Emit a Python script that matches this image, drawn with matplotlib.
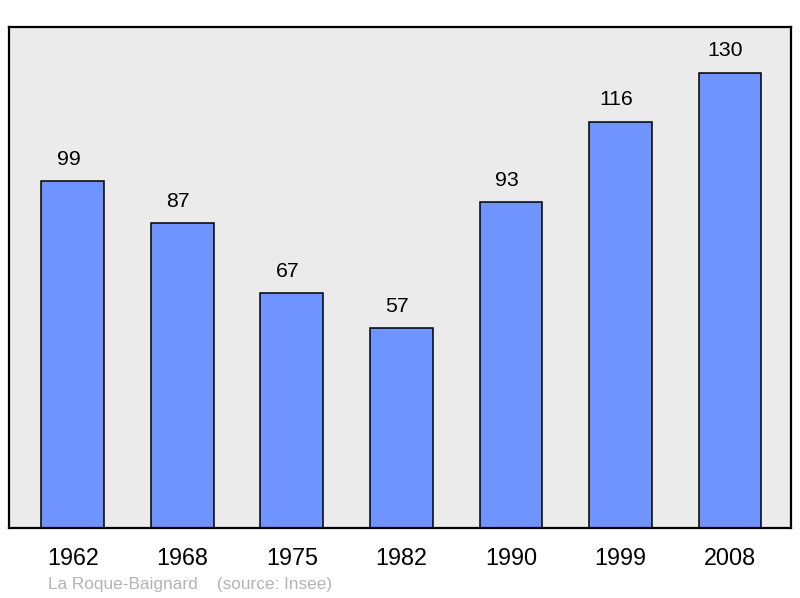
import matplotlib.pyplot as plt

plt.rcParams['font.family'] = ['Liberation Sans', 'DejaVu Sans']

years = ['1962', '1968', '1975', '1982', '1990', '1999', '2008']
population = [99, 87, 67, 57, 93, 116, 130]

fig = plt.figure(figsize=(8, 5.98), dpi=100)
ax = fig.add_axes([9 / 800, 1 - 528 / 598, 782 / 800, 501 / 598])
ax.set_facecolor('#ebebeb')

x = range(len(years))
ax.bar(x, population, width=0.575, color='#7094ff', edgecolor='black', linewidth=1.1, zorder=2)
for i, v in zip(x, population):
    ax.text(i - 0.04, v + 3.6, str(v), ha='center', va='bottom', fontsize=15.3)

ax.set_xlim(-0.584, 6.557)
ax.set_ylim(0, 143.1)
ax.set_xticks(list(x))
ax.set_xticklabels(years, fontsize=16.8)
ax.tick_params(axis='x', length=0, pad=14)
ax.set_yticks([])
for s in ax.spines.values():
    s.set_linewidth(1.6)

fig.text(48 / 800, 1 - 584 / 598, 'La Roque-Baignard    (source: Insee)',
         color='#b4b4b4', fontsize=12.4, va='center', ha='left')

fig.savefig('out.png', dpi=100)
